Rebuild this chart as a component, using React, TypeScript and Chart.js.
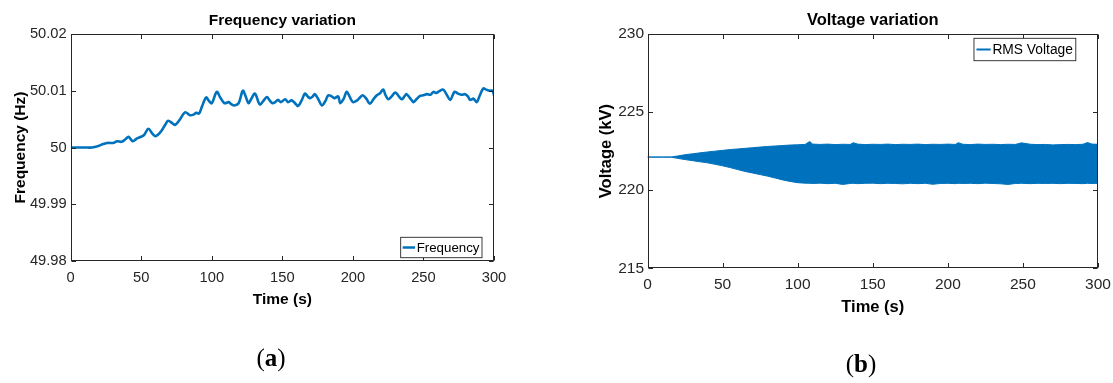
import React, { useEffect, useRef } from 'react';
import { Chart, registerables } from 'chart.js';

Chart.register(...registerables);

// ---------------- DATA ----------------
const freqTime = [
  0, 5, 10, 15, 20, 23, 26, 30, 33, 36, 39, 41, 44, 47, 49, 52, 55, 58, 60, 62, 64.5, 67, 69, 72, 74, 77,
  81, 84.5, 87, 89, 91, 93, 96, 98, 100, 103.5, 106, 109, 112, 114, 116, 119, 122, 124, 126, 128, 130.6,
  134, 136.5, 139, 141, 143, 145, 147, 149, 152, 154, 156.6, 159, 161, 163.5, 166, 168, 169.6, 171.5, 173,
  175.5, 178, 180.5, 182.6, 185, 187, 189.6, 191, 193.5, 195.6, 198, 200, 203, 205, 207, 209.5, 212, 214.5,
  217, 219, 221.5, 223, 225, 227.5, 230, 232, 234.6, 236.5, 238, 240.5, 243, 245, 247.6, 250, 252.5, 255,
  257, 259, 261, 264, 266.5, 269, 272, 274.5, 277, 279.5, 281.5, 283, 285.5, 287.7, 290, 292.4, 294.5, 297,
  299, 300,
];
const freqValue = [
  50.0, 50.0, 50.0, 50.0, 50.0003, 50.0006, 50.0008, 50.0008, 50.0011, 50.001, 50.0015, 50.0019, 50.0011,
  50.0016, 50.0018, 50.0022, 50.0033, 50.0024, 50.002, 50.0023, 50.003, 50.004, 50.0047, 50.0043, 50.004,
  50.0048, 50.0062, 50.0057, 50.0058, 50.0061, 50.006, 50.0072, 50.0088, 50.0082, 50.0078, 50.0098,
  50.0088, 50.0078, 50.008, 50.0076, 50.0074, 50.0078, 50.01, 50.009, 50.0078, 50.0086, 50.0095, 50.0076,
  50.0082, 50.0089, 50.0083, 50.0078, 50.008, 50.0084, 50.008, 50.0085, 50.008, 50.0083, 50.0078, 50.0073,
  50.0082, 50.0095, 50.009, 50.0087, 50.009, 50.0094, 50.0085, 50.0074, 50.0082, 50.0092, 50.009, 50.0087,
  50.009, 50.0078, 50.0086, 50.0098, 50.0088, 50.008, 50.0083, 50.0088, 50.0092, 50.0086, 50.0077, 50.0085,
  50.0092, 50.0095, 50.0102, 50.0093, 50.0085, 50.009, 50.0097, 50.0092, 50.0085, 50.009, 50.0094, 50.0087,
  50.008, 50.0085, 50.0091, 50.0092, 50.0094, 50.0093, 50.0098, 50.0096, 50.0099, 50.0102, 50.0093,
  50.0084, 50.0098, 50.0095, 50.0093, 50.0094, 50.009, 50.0084, 50.0086, 50.008, 50.0092, 50.0104,
  50.0102, 50.01, 50.01, 50.0092,
];

const voltTime = [
  0, 5, 10, 16, 20, 25, 30, 35, 40, 45, 50, 55, 60, 65, 70, 75, 80, 85, 90, 95, 100, 105, 108, 110, 115,
  120, 125, 130, 135, 137, 140, 145, 150, 155, 160, 165, 170, 175, 180, 185, 190, 195, 200, 205, 207, 210,
  215, 220, 225, 230, 235, 240, 245, 249, 255, 260, 265, 270, 275, 280, 285, 290, 293, 296, 300,
];
const voltUpper = [
  222.12, 222.12, 222.12, 222.13, 222.19, 222.27, 222.33, 222.39, 222.45, 222.5, 222.55, 222.6, 222.64,
  222.68, 222.72, 222.76, 222.8, 222.83, 222.86, 222.89, 222.91, 222.93, 223.12, 222.95, 222.93, 222.95,
  222.92, 222.94, 222.93, 223.04, 222.95, 222.92, 222.94, 222.93, 222.95, 222.92, 222.94, 222.93, 222.95,
  222.92, 222.94, 222.93, 222.95, 222.93, 223.04, 222.94, 222.92, 222.95, 222.93, 222.94, 222.92, 222.94,
  222.93, 223.03, 222.94, 222.92, 222.93, 222.9, 222.92, 222.93, 222.92, 222.94, 223.05, 222.95, 222.94,
];
const voltLower = [
  222.12, 222.12, 222.12, 222.11, 222.04, 221.96, 221.89, 221.82, 221.75, 221.66, 221.56, 221.45, 221.32,
  221.2, 221.1, 221.0, 220.9, 220.78, 220.66, 220.56, 220.48, 220.45, 220.44, 220.43, 220.45, 220.42,
  220.44, 220.37, 220.43, 220.44, 220.42, 220.44, 220.45, 220.42, 220.44, 220.43, 220.41, 220.44, 220.42,
  220.44, 220.38, 220.43, 220.44, 220.42, 220.44, 220.43, 220.44, 220.42, 220.45, 220.43, 220.41, 220.37,
  220.43, 220.44, 220.42, 220.44, 220.43, 220.44, 220.42, 220.44, 220.43, 220.42, 220.44, 220.43, 220.44,
];

const timeTicks = [0, 50, 100, 150, 200, 250, 300];
const timeTickLabels = ['0', '50', '100', '150', '200', '250', '300'];
const freqYTicks = [49.98, 49.99, 50, 50.01, 50.02];
const freqYTickLabels = ['49.98', '49.99', '50', '50.01', '50.02'];
const voltYTicks = [215, 220, 225, 230];
const voltYTickLabels = ['215', '220', '225', '230'];

// ---------------- STYLE ----------------
const BLUE = '#0072BD';
const AXIS = '#262626';
const SANS = '"Liberation Sans", Arial, Helvetica, sans-serif';
const W = 1113;
const H = 383;

const matlabPlugin = {
  id: 'matlabAxes',
  afterDatasetsDraw(chart: any, _args: any, opts: any) {
    const { ctx, chartArea: a, scales } = chart;
    ctx.save();
    const L = Math.round(a.left) + 0.5;
    const R = Math.round(a.right) - 0.5;
    const T = Math.round(a.top) + 0.5;
    const B = Math.round(a.bottom) - 0.5;
    ctx.strokeStyle = AXIS;
    ctx.lineWidth = 1;
    ctx.strokeRect(L, T, R - L, B - T);
    const tl = opts.tickLen;
    ctx.beginPath();
    scales.x.ticks.forEach((t: any) => {
      const p = Math.round(scales.x.getPixelForValue(t.value)) + 0.5;
      ctx.moveTo(p, B);
      ctx.lineTo(p, B - tl);
      ctx.moveTo(p, T);
      ctx.lineTo(p, T + tl);
    });
    scales.y.ticks.forEach((t: any) => {
      const p = Math.round(scales.y.getPixelForValue(t.value)) + 0.5;
      ctx.moveTo(L, p);
      ctx.lineTo(L + tl, p);
      ctx.moveTo(R, p);
      ctx.lineTo(R - tl, p);
    });
    ctx.stroke();

    // title
    ctx.fillStyle = '#000';
    ctx.font = `bold ${opts.titleSize}px ${SANS}`;
    ctx.textAlign = 'center';
    ctx.textBaseline = 'middle';
    ctx.fillText(opts.title, (a.left + a.right) / 2, opts.titleY);

    // legend
    const lg = opts.legend;
    const label = chart.data.datasets[0].label;
    ctx.font = `${lg.fontSize}px ${SANS}`;
    const tw = ctx.measureText(label).width;
    const w = lg.padL + lg.lineLen + lg.gap + tw + lg.padR;
    const x1 = a.right - lg.insetX - w;
    const y1 = lg.corner === 'br' ? a.bottom - lg.insetY - lg.height : a.top + lg.insetY;
    ctx.fillStyle = '#fff';
    ctx.fillRect(x1, y1, w, lg.height);
    ctx.strokeStyle = AXIS;
    ctx.lineWidth = 0.9;
    ctx.strokeRect(x1, y1, w, lg.height);
    const cy = y1 + lg.height / 2;
    ctx.strokeStyle = BLUE;
    ctx.lineWidth = lg.lineWidth;
    ctx.beginPath();
    ctx.moveTo(x1 + lg.padL, cy);
    ctx.lineTo(x1 + lg.padL + lg.lineLen, cy);
    ctx.stroke();
    ctx.fillStyle = '#000';
    ctx.textAlign = 'left';
    ctx.textBaseline = 'middle';
    ctx.fillText(label, x1 + lg.padL + lg.lineLen + lg.gap, cy + 0.5);
    ctx.restore();
  },
};

function xScale(tickSize: number, tickPad: number, titleSize: number, height: number) {
  return {
    type: 'linear',
    min: 0,
    max: 300,
    grid: { display: false, drawTicks: false, tickLength: 0 },
    border: { display: false },
    afterBuildTicks: (s: any) => {
      s.ticks = timeTicks.map((v) => ({ value: v }));
    },
    afterFit: (s: any) => {
      s.height = height;
      s.paddingLeft = 0;
      s.paddingRight = 0;
    },
    ticks: {
      autoSkip: false,
      maxRotation: 0,
      padding: tickPad,
      color: AXIS,
      font: { family: SANS, size: tickSize },
      callback: (_v: any, i: number) => timeTickLabels[i],
    },
    title: {
      display: true,
      text: 'Time (s)',
      color: '#000',
      padding: { top: 0, bottom: 0 },
      font: { family: SANS, size: titleSize, weight: 'bold' },
    },
  };
}

function yScale(
  min: number,
  max: number,
  vals: number[],
  labels: string[],
  text: string,
  tickSize: number,
  tickPad: number,
  titleSize: number,
  titlePad: number,
  width: number
) {
  return {
    type: 'linear',
    min,
    max,
    grid: { display: false, drawTicks: false, tickLength: 0 },
    border: { display: false },
    afterBuildTicks: (s: any) => {
      s.ticks = vals.map((v) => ({ value: v }));
    },
    afterFit: (s: any) => {
      s.width = width;
      s.paddingTop = 0;
      s.paddingBottom = 0;
    },
    ticks: {
      autoSkip: false,
      padding: tickPad,
      color: AXIS,
      font: { family: SANS, size: tickSize },
      callback: (_v: any, i: number) => labels[i],
    },
    title: {
      display: true,
      text,
      color: '#000',
      padding: { top: titlePad, bottom: 0 },
      font: { family: SANS, size: titleSize, weight: 'bold' },
    },
  };
}

export default function App() {
  const ref1 = useRef<HTMLCanvasElement>(null);
  const ref2 = useRef<HTMLCanvasElement>(null);

  useEffect(() => {
    const c1 = new Chart(ref1.current as HTMLCanvasElement, {
      type: 'line',
      data: {
        datasets: [
          {
            label: 'Frequency',
            data: freqTime.map((t, i) => ({ x: t, y: freqValue[i] })),
            borderColor: BLUE,
            backgroundColor: BLUE,
            borderWidth: 2.6,
            pointRadius: 0,
            tension: 0.35,
            fill: false,
          },
        ],
      },
      options: {
        responsive: false,
        animation: false,
        layout: { padding: { left: 0, top: 34, right: W - 494, bottom: 73.7 } },
        plugins: {
          legend: { display: false },
          tooltip: { enabled: false },
          title: { display: false },
          matlabAxes: {
            tickLen: 4.5,
            title: 'Frequency variation',
            titleSize: 15.5,
            titleY: 20.7,
            legend: {
              corner: 'br',
              insetX: 12,
              insetY: 3.3,
              height: 20.4,
              fontSize: 13.3,
              lineLen: 12.3,
              lineWidth: 2.5,
              padL: 2,
              gap: 1.7,
              padR: 2.5,
            },
          },
        } as any,
        scales: {
          x: xScale(14.7, 7.7, 15.5, 48.3) as any,
          y: yScale(49.98, 50.02, freqYTicks, freqYTickLabels, 'Frequency (Hz)', 14.7, 4, 15.5, 11, 70.7) as any,
        },
      },
      plugins: [matlabPlugin],
    } as any);

    const c2 = new Chart(ref2.current as HTMLCanvasElement, {
      type: 'line',
      data: {
        datasets: [
          {
            label: 'RMS Voltage',
            data: voltTime.map((t, i) => ({ x: t, y: voltUpper[i] })),
            borderColor: BLUE,
            backgroundColor: BLUE,
            borderWidth: 1,
            pointRadius: 0,
            tension: 0,
            fill: '+1',
          },
          {
            label: 'RMS Voltage (lower envelope)',
            data: voltTime.map((t, i) => ({ x: t, y: voltLower[i] })),
            borderColor: BLUE,
            backgroundColor: BLUE,
            borderWidth: 1,
            pointRadius: 0,
            tension: 0,
            fill: false,
          },
        ],
      },
      options: {
        responsive: false,
        animation: false,
        layout: { padding: { left: 587.5, top: 34, right: W - 1098, bottom: 65.6 } },
        plugins: {
          legend: { display: false },
          tooltip: { enabled: false },
          title: { display: false },
          matlabAxes: {
            tickLen: 4.5,
            title: 'Voltage variation',
            titleSize: 16.5,
            titleY: 20.7,
            legend: {
              corner: 'tr',
              insetX: 22.2,
              insetY: 4.3,
              height: 22.4,
              fontSize: 13.8,
              lineLen: 14.2,
              lineWidth: 2,
              padL: 2.5,
              gap: 1.7,
              padR: 2.9,
            },
          },
        } as any,
        scales: {
          x: xScale(15.5, 7.4, 16.5, 49.1) as any,
          y: yScale(215, 230, voltYTicks, voltYTickLabels, 'Voltage (kV)', 15.5, 3.5, 16.5, 8.6, 60) as any,
        },
      },
      plugins: [matlabPlugin],
    } as any);

    return () => {
      c1.destroy();
      c2.destroy();
    };
  }, []);

  const cap: React.CSSProperties = {
    position: 'absolute',
    transform: 'translate(-50%, -50%)',
    fontFamily: '"Liberation Serif", "Times New Roman", serif',
    fontSize: 25,
    lineHeight: 1,
    color: '#000',
    whiteSpace: 'nowrap',
  };

  return (
    <div
      style={{
        position: 'absolute',
        left: 0,
        top: 0,
        width: W,
        height: H,
        overflow: 'hidden',
        background: '#fff',
      }}
    >
      <canvas ref={ref1} width={W} height={H} style={{ position: 'absolute', left: 0, top: 0 }} />
      <canvas ref={ref2} width={W} height={H} style={{ position: 'absolute', left: 0, top: 0 }} />
      <div style={{ ...cap, left: 271, top: 357 }}>
        (<b>a</b>)
      </div>
      <div style={{ ...cap, left: 861, top: 363 }}>
        (<b>b</b>)
      </div>
    </div>
  );
}
